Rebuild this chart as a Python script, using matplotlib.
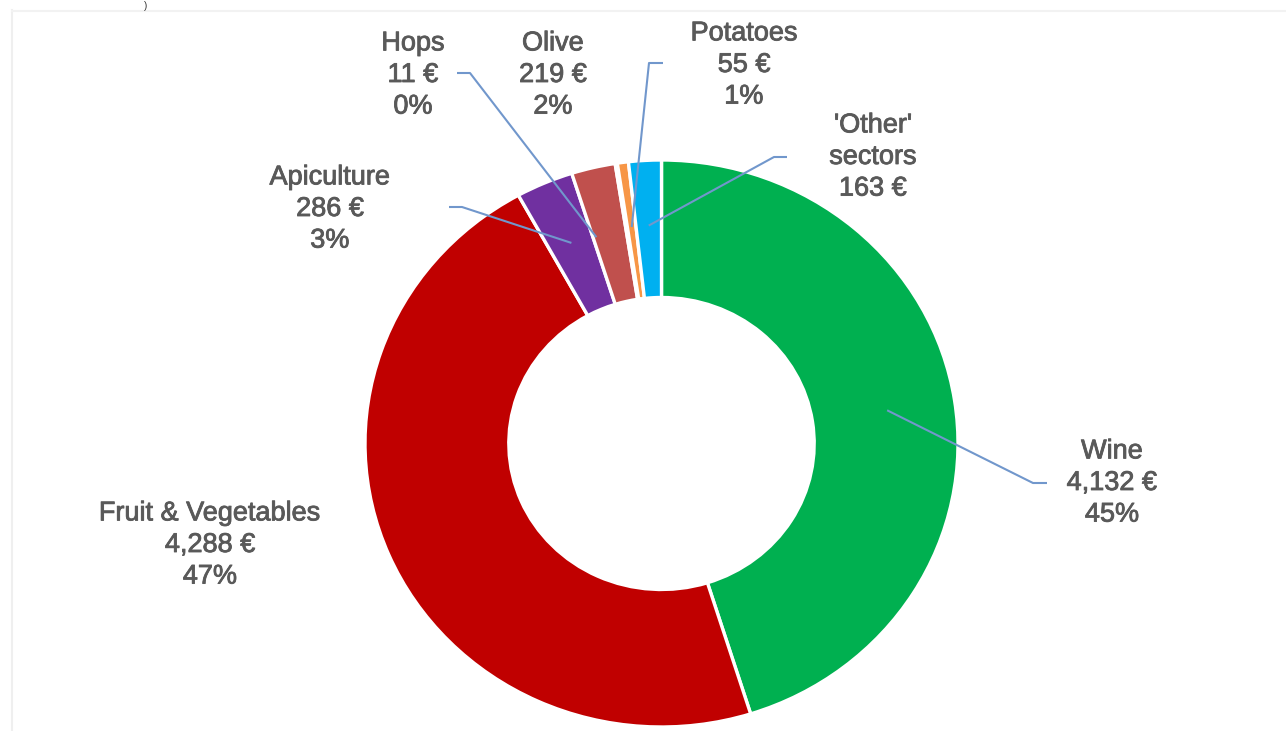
import matplotlib

matplotlib.use("Agg")
import matplotlib.patheffects as pe
import matplotlib.pyplot as plt
import numpy as np
from matplotlib.lines import Line2D

# budget by sector, clockwise from 12 o'clock
sectors = ["Wine", "Fruit & Vegetables", "Apiculture", "Olive", "Hops", "Potatoes", "'Other'\nsectors"]
amounts = [4132, 4288, 286, 219, 11, 55, 163]
show_pct = [True, True, True, True, True, True, False]
colors = ["#00B050", "#C00000", "#7030A0", "#C0504D", "#F9C48C", "#F79646", "#00B0F0"]

TEXT = "#595959"
LEADER = "#7197CC"
W, H = 1286, 731
CX, CY, RX, RY = 661.5, 443.5, 296.5, 283.5  # donut centre / radii in pixels


def px(x, y):
    """pixel position (origin top-left) -> data coords of the full-figure axes"""
    return (x - CX) / RX, (CY - y) / RY


plt.rcParams["font.family"] = ["Liberation Sans", "DejaVu Sans"]
fig = plt.figure(figsize=(W / 100, H / 100), dpi=100)
ax = fig.add_axes([0, 0, 1, 1])
ax.pie(amounts, colors=colors, startangle=90, counterclock=False, radius=1,
       wedgeprops=dict(width=0.485, edgecolor="white", linewidth=2.4))
ax.set_aspect("auto")
x0, y0 = px(0, H)
x1, y1 = px(W, 0)
ax.set_xlim(x0, x1)
ax.set_ylim(y0, y1)
ax.axis("off")

total = sum(amounts)
cum = np.cumsum([0] + amounts)
mid_deg = [90 - 360 * (cum[i] + amounts[i] / 2) / total for i in range(len(amounts))]

# label centre (px), leader: start point at the label, elbow x, anchor radius, angle shift
layout = {
    "Wine": dict(pos=(1112, 483), leader=((1047, 483), 1033), r=0.77, shift=0),
    "Fruit & Vegetables": dict(pos=(210, 545), leader=None),
    "Apiculture": dict(pos=(330, 209), leader=((449, 207), 462), r=0.77, shift=0),
    "Olive": dict(pos=(553, 75), leader=None),
    "Hops": dict(pos=(413, 75), leader=((457, 73), 470), r=0.76, shift=8),
    "Potatoes": dict(pos=(744, 65), leader=((663, 63), 649), r=0.77, shift=0),
    "'Other'\nsectors": dict(pos=(873, 157), leader=((787, 157), 774), r=0.77, shift=0),
}

soft = [pe.withStroke(linewidth=0.6, foreground=TEXT)]
for i, name in enumerate(sectors):
    v = amounts[i]
    lines = [name, f"{v:,} €"]
    if show_pct[i]:
        lines.append(f"{round(100 * v / total):.0f}%")
    cfg = layout[name]
    tx, ty = px(*cfg["pos"])
    ax.text(tx, ty, "\n".join(lines), ha="center", va="center", fontsize=19.5,
            color=TEXT, linespacing=1.28, path_effects=soft)
    if cfg["leader"]:
        (sx, sy), ex = cfg["leader"]
        a = np.deg2rad(mid_deg[i] + cfg["shift"])
        ax_, ay_ = cfg["r"] * np.cos(a), cfg["r"] * np.sin(a)
        p0, p1 = px(sx, sy), px(ex, sy)
        ax.plot([p0[0], p1[0], ax_], [p0[1], p1[1], ay_], color=LEADER, lw=1.5,
                solid_capstyle="butt")

# faint frame left over from the original slide
fig.add_artist(Line2D([12 / W, 12 / W], [0, 1 - 10 / H], color="#EFEFEF", lw=1.5))
fig.add_artist(Line2D([12 / W, 1], [1 - 11 / H, 1 - 11 / H], color="#F2F2F2", lw=1.5))
fig.text(146 / W, 1 - 6 / H, ")", fontsize=7, color="#333333", ha="center", va="center")

fig.savefig("out.png", dpi=100)
